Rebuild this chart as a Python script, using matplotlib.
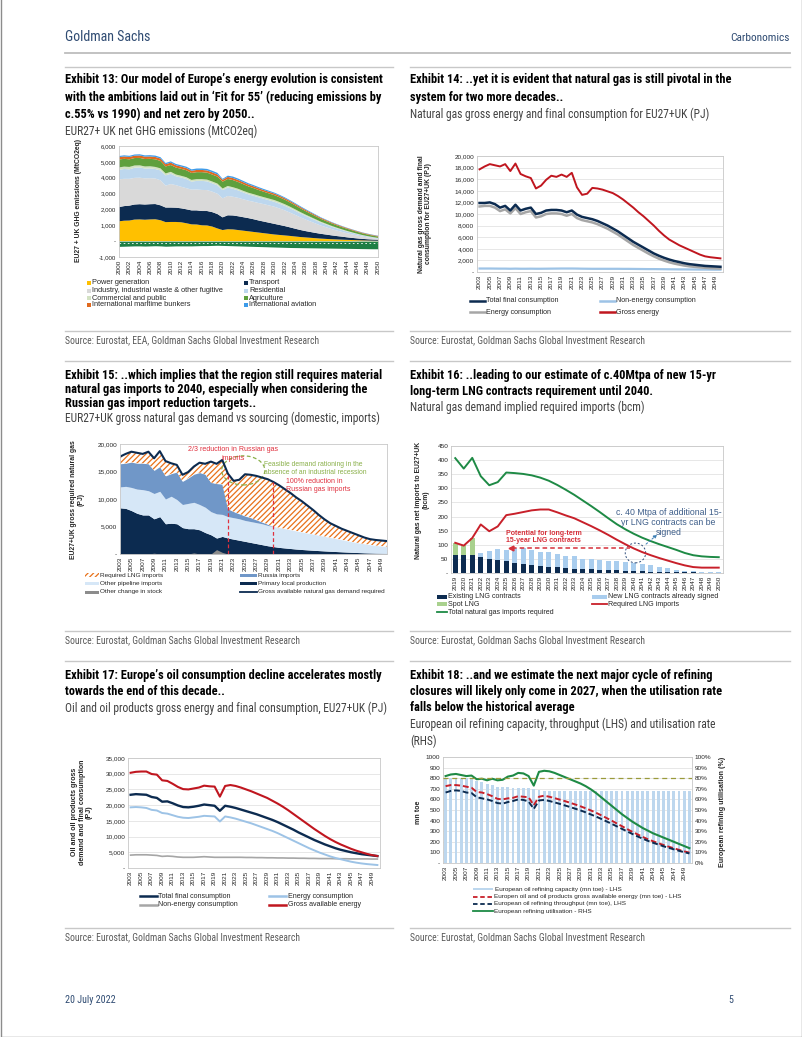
import os
import numpy as np
import matplotlib
matplotlib.use('Agg')
import matplotlib.pyplot as plt
import matplotlib.transforms as mtransforms
from matplotlib import font_manager as fm
from matplotlib.lines import Line2D
from matplotlib.patches import Rectangle, Ellipse
from matplotlib.ticker import FuncFormatter

plt.rcParams['font.family'] = ['Liberation Sans', 'DejaVu Sans']
plt.rcParams['hatch.linewidth'] = 0.9


def find_font(keys):
    for k in keys:
        for f in fm.fontManager.ttflist:
            if os.path.basename(f.fname).lower().startswith(k.lower()):
                return f.fname
    return None


# condensed face for the page text (title block, header, sources)
NARROW_B = find_font(['LiberationSansNarrow-Bold.', 'RobotoCondensed-Bold.', 'OpenSans-CondBold',
                      'DejaVuSansCondensed-Bold.'])
NARROW_R = find_font(['LiberationSansNarrow-Regular', 'RobotoCondensed-Regular', 'DejaVuSansCondensed.',
                      'OpenSans-CondLight'])

# ---------------- data ----------------
years13 = np.arange(2000, 2051)
power = [1250,1290,1300,1360,1370,1350,1370,1380,1320,1200, 1210,1210,1190,1130,1060,1050,1000,990,920,800,
         700,750,740,700,660,620,580,540,500,460, 420,390,360,330,295,260,235,210,185,160,
         140,122,108,95,82,70,58,47,38,30, 25]
transport = [900,920,940,950,960,960,960,960,940,920, 910,900,880,880,880,890,900,910,910,910,
             800,880,880,870,850,830,800,760,730,700, 670,630,590,540,490,445,400,365,330,300,
             275,245,215,190,160,135,115,95,82,72, 65]
industry = [1750,1720,1690,1680,1670,1650,1640,1610,1580,1380, 1480,1420,1360,1330,1310,1320,1330,1320,1290,1280,
            1200,1220,1180,1160,1130,1100,1100,1100,1100,1090, 1080,1040,990,930,870,800,730,660,590,520,
            460,400,350,300,260,220,180,145,115,85, 60]
residential = [600,620,600,640,650,620,620,600,620,650, 650,560,580,580,500,540,570,550,530,530,
               520,530,500,470,430,400,380,360,340,325, 310,300,290,280,265,250,235,220,205,185,
               170,155,140,125,112,100,85,72,60,50, 40]
commercial = [150,150,150,140,130,130,130,130,130,120, 120,110,110,110,110,110,110,110,110,110,
              100,100,100,100,100,100,100,100,100,105, 110,105,100,95,88,80,74,68,62,56,
              50,46,42,38,34,30,27,24,21,18, 15]
agriculture = [500,490,480,470,470,470,470,480,470,440, 430,440,440,440,440,440,440,440,440,440,
               430,440,450,430,420,400,380,360,340,325, 310,300,285,270,255,240,225,210,195,180,
               170,160,150,142,135,130,120,110,100,92, 85]
maritime = [150,150,150,150,150,150,150,150,150,140, 150,145,140,140,140,140,140,140,140,135,
            120,130,130,128,125,120,115,110,106,103, 100,96,92,88,84,80,76,72,68,64,
            60,56,52,48,44,40,39,38,37,36, 35]
aviation = [70,72,72,74,78,80,82,85,85,80, 80,82,84,86,88,90,92,95,100,100,
            60,80,90,88,84,80,76,72,68,64, 60,58,56,54,52,50,46,42,38,34,
            30,28,26,24,22,20,20,20,20,20, 20]
sinks = [-330,-320,-310,-300,-300,-310,-300,-290,-300,-320, -310,-300,-300,-300,-300,-290,-280,-280,-270,-260,
         -270,-280,-290,-300,-310,-320,-330,-340,-350,-360, -370,-380,-390,-400,-405,-410,-415,-420,-425,-430,
         -435,-440,-445,-450,-455,-460,-465,-470,-475,-480, -480]
labels13 = ['Power generation', 'Transport', 'Industry, industrial waste & other fugitive', 'Residential',
            'Commercial and public', 'Agriculture', 'International maritime bunkers', 'International aviation']

years = np.arange(2003, 2051)
gas_gross = [17.7,18.2,18.6,18.4,18.2,18.6,17.4,18.7,16.9,16.5, 16.2,14.4,14.9,15.9,16.6,16.4,16.8,16.4,17.1,14.6,
             13.3,13.5,14.5,14.4,14.2,13.9,13.6,13.1,12.5,11.8, 11.1,10.3,9.6,8.8,8.0,7.1,6.3,5.6,5.1,4.6,
             4.2,3.8,3.4,3.0,2.7,2.55,2.45,2.35]
gas_final = [11.9,11.9,12.0,11.7,11.1,11.4,10.6,11.6,10.6,10.9, 11.1,10.0,10.2,10.6,10.7,10.7,10.6,10.3,10.6,9.9,
             9.5,9.3,9.1,8.8,8.4,8.0,7.5,7.0,6.4,5.8, 5.2,4.7,4.2,3.7,3.2,2.8,2.45,2.15,1.9,1.7,
             1.5,1.35,1.25,1.15,1.05,1.0,0.95,0.9]
gas_energy = [11.3,11.4,11.4,11.1,10.5,10.8,10.1,11.0,10.0,10.3, 10.5,9.4,9.6,10.0,10.1,10.1,10.0,9.7,10.0,9.3,
              8.95,8.75,8.55,8.25,7.85,7.45,6.95,6.45,5.85,5.25, 4.65,4.15,3.65,3.15,2.7,2.3,1.97,1.68,1.45,1.27,
              1.1,0.97,0.88,0.8,0.72,0.66,0.62,0.58]
gas_nonenergy = [0.60,0.60,0.60,0.59,0.58,0.58,0.56,0.58,0.56,0.56, 0.57,0.56,0.56,0.57,0.58,0.59,0.60,0.60,0.60,0.59,
                 0.57,0.56,0.55,0.55,0.55,0.55,0.55,0.55,0.54,0.54, 0.53,0.52,0.51,0.50,0.50,0.49,0.48,0.47,0.46,0.45,
                 0.45,0.44,0.43,0.42,0.42,0.41,0.40,0.40]

local_prod = [8.4,8.3,7.9,7.4,7.1,7.1,6.4,6.8,5.5,5.6, 5.5,4.8,4.6,4.6,4.4,3.9,3.5,2.9,3.2,2.9,
              2.7,2.5,2.3,2.1,1.9,1.7,1.5,1.35,1.2,1.1, 1.0,0.9,0.82,0.75,0.68,0.62,0.56,0.5,0.45,0.4,
              0.35,0.3,0.26,0.22,0.19,0.16,0.14,0.12]
pipeline_cum = [12.2,12.3,12.1,11.8,11.7,11.5,11.0,11.4,10.0,10.5, 9.9,9.0,9.2,9.4,9.0,8.5,7.7,7.3,7.2,6.8,
                6.6,6.4,6.1,5.9,5.7,5.5,5.2,5.0,4.8,4.6, 4.4,4.2,4.0,3.8,3.6,3.4,3.2,3.0,2.8,2.6,
                2.4,2.2,2.0,1.85,1.7,1.55,1.45,1.35]
russia_cum = [16.4,16.5,16.7,16.5,16.5,16.4,15.2,15.9,14.2,14.6, 14.9,13.2,13.8,14.5,14.8,14.5,13.0,12.8,12.7,8.2,
              7.7,7.3,6.9,6.6,6.2,5.8,5.4,5.0,4.8,4.6, 4.4,4.2,4.0,3.8,3.6,3.4,3.2,3.0,2.8,2.6,
              2.4,2.2,2.0,1.85,1.7,1.55,1.45,1.35]
stock_change = [0.1,0.05,0,0,0,0,0.15,0,0,0, 0,0.1,0,0.2,0,0,0,0.8,0.3,0,
                0,0,0,0,0,0,0,0,0,0, 0,0,0,0,0,0,0,0,0,0,
                0,0,0,0,0,0,0,0]

years16 = np.arange(2019, 2051)
existing_lng = [63,64,64,57,51,46,41,36,32,28, 26,23,20,18,15,14,13,11,10,9, 8,7,6,5,4,3,3,2,2,1, 1,1]
new_lng = [0,0,0,14,27,38,40,54,56,52, 50,50,49,44,45,37,36,35,34,32, 31,29,27,22,16,13,7,6,4,4, 4,4]
spot_lng = [44,34,60,0,0,0,0,0,0,0, 0,0,0,0,0,0,0,0,0,0, 0,0,0,0,0,0,0,0,0,0, 0,0]
required_lng = [107,97,124,172,148,165,205,210,216,222, 225,225,215,204,194,180,166,151,135,118,
                102,87,74,63,53,44,35,27,21,19, 19,19]
total_imports = [407,370,408,343,311,322,356,354,351,346, 338,327,312,295,277,257,237,216,194,173,
                 155,139,125,113,102,92,82,71,63,59, 57,56]

oil_gross = [30.3,30.6,30.7,30.7,29.9,29.7,27.9,27.7,26.8,25.8, 25.1,25.0,25.3,25.6,26.2,26.0,25.9,22.7,26.1,26.4,
             26.1,25.6,25.0,24.4,23.7,23.0,22.3,21.4,20.5,19.5, 18.4,17.2,16.0,14.8,13.6,12.4,11.3,10.2,9.2,8.3,
             7.5,6.8,6.1,5.5,5.0,4.5,4.1,3.8]
oil_final = [23.3,23.5,23.4,23.3,22.6,22.3,21.1,21.2,20.6,19.9, 19.4,19.3,19.5,19.8,20.2,20.0,19.8,18.2,19.8,19.5,
             19.1,18.6,18.1,17.6,17.1,16.5,15.9,15.3,14.6,13.8, 13.0,12.2,11.3,10.5,9.7,8.9,8.2,7.5,6.9,6.3,
             5.8,5.4,5.0,4.7,4.4,4.2,4.0,3.8]
oil_energy = [19.3,19.4,19.3,19.1,18.5,18.3,17.5,17.3,16.8,16.3, 16.0,15.9,16.1,16.3,16.6,16.5,16.4,14.8,16.4,16.1,
              15.7,15.2,14.7,14.2,13.6,13.0,12.4,11.8,11.1,10.3, 9.5,8.7,7.9,7.1,6.3,5.6,4.9,4.3,3.7,3.2,
              2.8,2.4,2.0,1.7,1.45,1.25,1.1,0.95]
oil_nonenergy = [4.1,4.2,4.2,4.2,4.1,4.0,3.7,3.8,3.7,3.5, 3.4,3.4,3.4,3.5,3.6,3.5,3.4,3.4,3.4,3.4,
                 3.4,3.4,3.35,3.35,3.3,3.3,3.25,3.25,3.2,3.2, 3.15,3.15,3.1,3.1,3.05,3.05,3.0,3.0,3.0,2.95,
                 2.95,2.95,2.9,2.9,2.9,2.9,2.85,2.85]

capacity = [800,805,805,805,800,800,770,760,750,740, 720,715,715,710,705,705,705,700,690,680,
            680,680,680,680,680,680,680,680,680,680, 680,680,680,680,680,680,680,680,680,680,
            680,680,680,680,680,680,680,680]
refine_gross = [725,735,735,730,720,710,670,665,650,630, 605,600,610,615,630,625,620,545,625,635,
                625,612,598,584,568,552,535,516,496,474, 450,425,400,373,347,320,294,270,246,224,
                205,187,170,154,139,124,110,98]
throughput = [665,680,685,680,665,660,620,610,600,585, 565,560,575,585,600,595,580,510,590,595,
              585,572,558,543,528,512,496,478,458,438, 416,393,370,346,322,298,274,251,229,209,
              191,174,158,143,129,115,102,90]
utilisation = [82,83.5,84,83,82,82.5,79,79.5,78,79.5, 78,78.5,81.5,82.5,85,84.5,82,73,86,87,
               86.5,85,83,81,79,77,75,72.5,69.5,66, 62,58,54,50,46,42.5,39,36,33,30.5,
               28,26,24,22,20,18,16,14]
hist_avg = 80

# ---------------- page ----------------
W, H = 802, 1037
fig = plt.figure(figsize=(W / 100, H / 100), dpi=100)
pix = mtransforms.Affine2D().scale(1 / W, -1 / H).translate(0, 1) + fig.transFigure

NAVY = '#0C2B50'
GS = '#2F4B72'
GRAY_TXT = '#595959'
TICK = 4.6
YLAB = 4.9


def ptext(x, y, s, size=5.1, color='#262626', weight='normal', ha='left', va='center', narrow=False, **kw):
    if narrow:
        path = NARROW_B if weight == 'bold' else NARROW_R
        if path:
            fp = fm.FontProperties(fname=path, size=size)
        else:
            fp = fm.FontProperties(family='Liberation Sans', weight=weight, size=size * 0.84)
        fig.text(x, y, s, transform=pix, fontproperties=fp, color=color, ha=ha, va=va, **kw)
    else:
        fig.text(x, y, s, transform=pix, fontsize=size, color=color, fontweight=weight, ha=ha, va=va, **kw)


def hline(x0, x1, y, color='#C8C8C8', lw=1.0):
    fig.add_artist(Line2D([x0, x1], [y, y], transform=pix, color=color, lw=lw))


def leg_line(x0, x1, y, label, color, lw=1.8, ls='-', size=5.1):
    fig.add_artist(Line2D([x0, x1], [y, y], transform=pix, color=color, lw=lw, ls=ls))
    ptext(x1 + 1.5, y, label, size=size)


def leg_box(x0, x1, y, h, label, color, hatch=None, ec=None, tx=None, size=5.1):
    fig.add_artist(Rectangle((x0, y - h / 2), x1 - x0, h, transform=pix, facecolor=color,
                             edgecolor=ec if ec else color, hatch=hatch, lw=0))
    ptext(tx if tx else x1 + 1.5, y, label, size=size)


def make_ax(x0, y0, x1, y1, grid=True):
    ax = fig.add_axes([x0 / W, 1 - y1 / H, (x1 - x0) / W, (y1 - y0) / H])
    for s in ax.spines.values():
        s.set_color('#C8C8C8')
        s.set_linewidth(0.6)
    ax.tick_params(length=0, labelsize=TICK, pad=2, colors='#262626')
    if grid:
        ax.grid(axis='y', color='#DDDDDD', lw=0.5)
    ax.set_axisbelow(True)
    return ax


def dash_fmt(comma=True):
    if comma:
        return FuncFormatter(lambda v, p: '-' if abs(v) < 1e-9 else f'{v:,.0f}')
    return FuncFormatter(lambda v, p: '-' if abs(v) < 1e-9 else f'{v:.0f}')


def year_ticks(ax, yrs, step=2):
    ticks = list(yrs[::step])
    ax.set_xticks(ticks)
    ax.set_xticklabels([str(t) for t in ticks], rotation=90)


def title_block(x, y0, lines, subs, step=17):
    y = y0
    for ln in lines:
        ptext(x, y, ln, size=8.9, color='#000000', weight='bold', narrow=True)
        y += step
    for ln in subs:
        ptext(x, y, ln, size=8.3, color='#404040', narrow=True)
        y += step


# header / footer
ptext(65, 37, 'Goldman Sachs', size=10, color=GS, narrow=True)
ptext(790, 38, 'Carbonomics', size=8.2, color=GS, ha='right', narrow=True)
hline(65, 790, 53, color='#BDBDBD', lw=1.3)

for ytop in (67, 361, 661):
    hline(65, 393, ytop)
    hline(410, 790, ytop)
for ybot in (331, 631, 928):
    hline(65, 393, ybot)
    hline(410, 790, ybot)

title_block(65, 80, ['Exhibit 13: Our model of Europe\u2019s energy evolution is consistent',
                     'with the ambitions laid out in \u2018Fit for 55\u2019 (reducing emissions by',
                     'c.55% vs 1990) and net zero by 2050..'],
            ['EUR27+ UK net GHG emissions (MtCO2eq)'])
title_block(410, 80, ['Exhibit 14: ..yet it is evident that natural gas is still pivotal in the',
                      'system for two more decades..'],
            ['Natural gas gross energy and final consumption for EU27+UK (PJ)'])
title_block(65, 375, ['Exhibit 15: ..which implies that the region still requires material',
                      'natural gas imports to 2040, especially when considering the',
                      'Russian gas import reduction targets..'],
            ['EUR27+UK gross natural gas demand vs sourcing (domestic, imports)'], step=14.5)
title_block(410, 375, ['Exhibit 16: ..leading to our estimate of c.40Mtpa of new 15-yr',
                       'long-term LNG contracts requirement until 2040.'],
            ['Natural gas demand implied required imports (bcm)'], step=16)
title_block(65, 675, ['Exhibit 17: Europe\u2019s oil consumption decline accelerates mostly',
                      'towards the end of this decade..'],
            ['Oil and oil products gross energy and final consumption, EU27+UK (PJ)'], step=16.5)
title_block(410, 675, ['Exhibit 18: ..and we estimate the next major cycle of refining',
                       'closures will likely only come in 2027, when the utilisation rate',
                       'falls below the historical average'],
            ['European oil refining capacity, throughput (LHS) and utilisation rate', '(RHS)'], step=16.5)

src = 'Source: Eurostat, Goldman Sachs Global Investment Research'
ptext(65, 340, 'Source: Eurostat, EEA, Goldman Sachs Global Investment Research', size=6.9, color=GRAY_TXT,
      narrow=True)
for (sx, sy) in ((410, 340), (65, 640), (410, 640), (65, 937), (410, 937)):
    ptext(sx, sy, src, size=6.9, color=GRAY_TXT, narrow=True)

ptext(65, 1000, '20 July 2022', size=7.2, color=GS, narrow=True)
ptext(731, 1000, '5', size=7.2, color=GS, ha='center', narrow=True)
fig.add_artist(Line2D([0.5, 0.5, 801.5, 801.5], [0, 1036.5, 1036.5, 0], transform=pix, color='#8C8C8C', lw=1.0))

# ---------------- Exhibit 13 ----------------
c13 = ['#FFC000', NAVY, '#D9D9D9', '#BDD7EE', '#D3E2C3', '#5FA03D', '#E0691F', '#3D9BE9']
ax = make_ax(119, 146, 378, 257, grid=False)
ax.stackplot(years13, power, transport, industry, residential, commercial, agriculture, maritime, aviation,
             colors=c13, lw=0)
ax.fill_between(years13, 0, sinks, color='#1E7F45', lw=0)
ax.plot(years13, np.array(sinks) * 0 - 100, color='white', lw=0.6, ls=(0, (2, 3)))
ax.set_xlim(2000, 2050)
ax.set_ylim(-1000, 6000)
ax.set_yticks(np.arange(-1000, 6001, 1000))
ax.yaxis.set_major_formatter(dash_fmt())
year_ticks(ax, years13)
ax.tick_params(axis='y', labelsize=4.4)
ptext(78, 201, 'EU27 + UK GHG emissions (MtCO2eq)', size=YLAB, weight='bold', rotation=90, ha='center')
rows = [283, 291, 298, 305]
for i, lab in enumerate(labels13):
    xb = 87 if i % 2 == 0 else 244
    leg_box(xb, xb + 3.5, rows[i // 2], 3.5, lab, c13[i], tx=xb + 5, size=5.3)

# ---------------- Exhibit 14 ----------------
ax = make_ax(477, 156, 723, 272)
ax.plot(years, np.array(gas_nonenergy) * 1000, color='#9DC3E6', lw=1.6)
ax.plot(years, np.array(gas_energy) * 1000, color='#A6A6A6', lw=1.8)
ax.plot(years, np.array(gas_final) * 1000, color=NAVY, lw=1.8)
ax.plot(years, np.array(gas_gross) * 1000, color='#C0161F', lw=1.4)
ax.set_xlim(2002.5, 2050.5)
ax.set_ylim(0, 20000)
ax.set_yticks(np.arange(0, 20001, 2000))
ax.yaxis.set_major_formatter(dash_fmt())
year_ticks(ax, years)
ptext(425, 214, 'Natural gas gross demand amd final\nconsumption for EU27+UK (PJ)', size=YLAB, weight='bold',
      rotation=90, ha='center', linespacing=1.1)
leg_line(470, 485, 301, 'Total final consumption', NAVY)
leg_line(600, 615, 301, 'Non-energy consumption', '#9DC3E6')
leg_line(470, 485, 312, 'Energy consumption', '#A6A6A6')
leg_line(600, 615, 312, 'Gross energy', '#C0161F')

# ---------------- Exhibit 15 ----------------
ax = make_ax(120, 444, 387, 554, grid=False)
g15 = np.array(gas_gross) * 1000
ax.fill_between(years, 0, np.array(local_prod) * 1000, color=NAVY, lw=0)
ax.fill_between(years, np.array(local_prod) * 1000, np.array(pipeline_cum) * 1000, color='#D6E7F7', lw=0)
ax.fill_between(years, np.array(pipeline_cum) * 1000, np.array(russia_cum) * 1000, color='#7097C8', lw=0)
ax.fill_between(years, np.array(russia_cum) * 1000, g15, facecolor='white', edgecolor='#E8711A',
                hatch='//////', lw=0)
ax.fill_between(years, 0, np.array(stock_change) * 1000, color='#8C8C8C', lw=0)
ax.plot(years, g15, color=NAVY, lw=1.5)
for yr in (2022, 2030):
    ax.vlines(yr, 0, g15[yr - 2003], color='#E0303E', lw=0.9, ls=(0, (3, 2)))
ax.add_patch(Ellipse((2024.7, 15200), 7.6, 5300, fill=False, ec='#8AB04A', lw=0.9, ls=(0, (3, 2))))
ax.text(2022.9, 18200, '2/3 reduction in Russian gas\nimports', fontsize=5.1, color='#E0303E', ha='center',
        va='center', linespacing=1.3)
ax.text(2028.4, 15500, 'Feasible demand rationing in the\nabsence of an industrial recession', fontsize=4.9,
        color='#8AB04A', ha='left', va='center', linespacing=1.25)
ax.text(2032.3, 12400, '100% reduction in\nRussian gas imports', fontsize=5.0, color='#E0303E', ha='left',
        va='center', linespacing=1.25)
ax.set_xlim(2003, 2050)
ax.set_ylim(0, 20000)
ax.set_yticks(np.arange(0, 20001, 5000))
ax.yaxis.set_major_formatter(dash_fmt())
year_ticks(ax, years)
ptext(77, 500, 'EU27+UK gross required natural gas\n(PJ)', size=YLAB, weight='bold', rotation=90, ha='center',
      linespacing=1.1)
leg_box(85, 99, 575, 3.5, 'Required LNG imports', 'white', hatch='//////', ec='#E8711A', size=4.6)
leg_box(240, 257, 575, 3, 'Russia imports', '#7097C8', size=4.6)
leg_box(85, 99, 583, 3, 'Other pipeline imports', '#D6E7F7', size=4.6)
leg_box(240, 257, 583, 3, 'Primary local production', NAVY, size=4.6)
leg_box(85, 99, 592, 3, 'Other change in stock', '#8C8C8C', size=4.6)
leg_line(240, 257, 592, 'Gross available natural gas demand required', NAVY, lw=1.3, size=4.6)

# ---------------- Exhibit 16 ----------------
ax = make_ax(451, 446, 723, 573)
ax.bar(years16, existing_lng, width=0.6, color=NAVY)
ax.bar(years16, new_lng, width=0.6, bottom=existing_lng, color='#A9CDEE')
ax.bar(years16, spot_lng, width=0.6, bottom=np.array(existing_lng) + np.array(new_lng), color='#A9D18E')
ax.plot(years16, required_lng, color='#C8202A', lw=1.4)
ax.plot(years16, total_imports, color='#1E8A45', lw=1.4)
ax.plot([2025.7, 2039.5], [90, 90], color='#D6303A', lw=1.1, ls=(0, (3, 2)))
ax.plot([2025.5], [90], marker='<', color='#D6303A', ms=3.5)
ax.text(2029.4, 128, 'Potential for long-term\n15-year LNG contracts', fontsize=5.0, color='#D6303A',
        weight='bold', ha='center', va='center', linespacing=1.15)
ax.add_patch(Ellipse((2040.2, 71), 2.4, 70, fill=False, ec='#2E4D7B', lw=0.7, ls=(0, (2, 2))))
ax.annotate('', xy=(2043.0, 142), xytext=(2041.2, 96),
            arrowprops=dict(arrowstyle='-|>', color='#3D7FB5', lw=0.7, ls=(0, (2, 2)), mutation_scale=5))
ax.text(2044.1, 179, 'c. 40 Mtpa of additional 15-\nyr LNG contracts can be\nsigned', fontsize=6.3,
        color='#3F5F8A', ha='center', va='center', linespacing=1.1)
ax.set_xlim(2018.5, 2050.5)
ax.set_ylim(0, 450)
ax.set_yticks(np.arange(0, 451, 50))
ax.yaxis.set_major_formatter(dash_fmt())
year_ticks(ax, years16, step=1)
ptext(422, 500, 'Natural gas net imports to EU27+UK\n(bcm)', size=YLAB, weight='bold', rotation=90,
      ha='center', linespacing=1.1)
leg_box(437, 447, 597, 3.5, 'Existing LNG contracts', NAVY)
leg_box(592, 607, 597, 3.5, 'New LNG contracts already signed', '#A9CDEE')
leg_box(437, 447, 604, 3.5, 'Spot LNG', '#A9D18E')
leg_line(592, 607, 604, 'Required LNG imports', '#C8202A', lw=1.3)
leg_line(437, 447, 612, 'Total natural gas imports required', '#1E8A45', lw=1.3)

# ---------------- Exhibit 17 ----------------
ax = make_ax(128, 758, 380, 868)
ax.plot(years, np.array(oil_nonenergy) * 1000, color='#A6A6A6', lw=1.2)
ax.plot(years, np.array(oil_energy) * 1000, color='#9DC3E6', lw=1.4)
ax.plot(years, np.array(oil_final) * 1000, color=NAVY, lw=1.7)
ax.plot(years, np.array(oil_gross) * 1000, color='#C0161F', lw=1.5)
ax.set_xlim(2002.5, 2050.5)
ax.set_ylim(0, 35000)
ax.set_yticks(np.arange(0, 35001, 5000))
ax.yaxis.set_major_formatter(dash_fmt())
year_ticks(ax, years)
ptext(82, 812, 'Oil and oil products gross\ndemand and final consumption\n(PJ)', size=5.1, weight='bold',
      rotation=90, ha='center', linespacing=1.1)
leg_line(140, 157, 896, 'Total final consumption', NAVY)
leg_line(269, 286, 896, 'Energy consumption', '#9DC3E6')
leg_line(140, 157, 905, 'Non-energy consumption', '#A6A6A6')
leg_line(269, 286, 905, 'Gross available energy', '#C0161F')

# ---------------- Exhibit 18 ----------------
ax = make_ax(443, 757, 692, 863)
ax.bar(years, capacity, width=0.55, color='#BDD7EE')
ax.plot(years, refine_gross, color='#C8202A', lw=1.4, ls=(0, (3, 1.5)))
ax.plot(years, throughput, color=NAVY, lw=1.4, ls=(0, (3, 1.5)))
ax.set_xlim(2002.5, 2050.5)
ax.set_ylim(0, 1000)
ax.set_yticks(np.arange(0, 1001, 100))
ax.yaxis.set_major_formatter(dash_fmt(comma=False))
year_ticks(ax, years)
ax2 = ax.twinx()
ax2.plot(years, utilisation, color='#1E8A45', lw=1.5)
ax2.axhline(hist_avg, color='#9A9A3A', lw=0.9, ls=(0, (4, 3)))
ax2.set_ylim(0, 100)
ax2.set_yticks(np.arange(0, 101, 10))
ax2.yaxis.set_major_formatter(FuncFormatter(lambda v, p: f'{v:.0f}%'))
ax2.tick_params(length=0, labelsize=TICK, pad=2, colors='#262626')
for s in ax2.spines.values():
    s.set_visible(False)
ptext(419, 812, 'mn toe', size=5.1, weight='bold', rotation=90, ha='center')
ptext(723, 812, 'European refining utilisation (%)', size=5.1, weight='bold', rotation=90, ha='center')
leg_box(473, 493, 889, 2.8, 'European oil refining capacity (mn toe) - LHS', '#BDD7EE', tx=495, size=4.6)
leg_line(473, 493, 896.5, 'Europen oil and oil products gross available energy (mn toe) - LHS', '#C8202A',
         lw=1.3, ls=(0, (2.5, 1.5)), size=4.6)
leg_line(473, 493, 904, 'European oil refining throughput (mn toe), LHS', NAVY, lw=1.3, ls=(0, (2.5, 1.5)),
         size=4.6)
leg_line(473, 493, 911, 'European refining utilisation - RHS', '#1E8A45', lw=1.3, size=4.6)

fig.savefig('out.png', dpi=100)
